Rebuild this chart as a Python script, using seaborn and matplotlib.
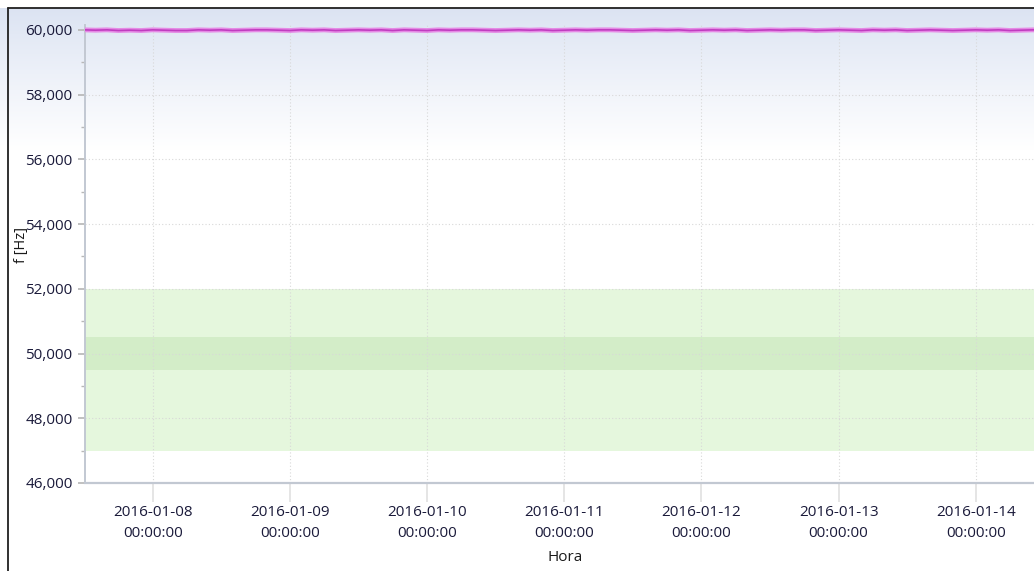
import numpy as np
import pandas as pd
import matplotlib
matplotlib.use("Agg")
import matplotlib.pyplot as plt
import matplotlib.dates as mdates
from matplotlib.ticker import FuncFormatter, MultipleLocator
import seaborn as sns

# Frequency readings, one every 2 hours from 2016-01-07 12:00
freq_hz = [
    60.00, 59.99, 60.00, 59.98, 59.99, 59.98, 60.00, 59.99, 59.98, 59.98,
    60.00, 59.99, 60.00, 59.98, 59.99, 60.00, 60.00, 59.99, 59.98, 60.00,
    59.99, 60.00, 59.98, 59.99, 60.00, 59.99, 60.00, 59.98, 60.00, 59.99,
    59.98, 60.00, 59.99, 60.00, 60.00, 59.99, 59.98, 59.99, 60.00, 59.99,
    60.00, 59.98, 59.99, 60.00, 59.99, 60.00, 60.00, 59.99, 59.98, 59.99,
    60.00, 59.99, 60.00, 59.98, 59.99, 60.00, 59.99, 60.00, 59.98, 59.99,
    60.00, 59.99, 60.00, 60.00, 59.98, 59.99, 60.00, 59.99, 59.98, 60.00,
    59.99, 60.00, 59.98, 59.99, 60.00, 59.99, 59.98, 59.99, 60.00, 59.99,
    60.00, 59.98, 59.99, 60.00, 59.99,
]
times = pd.date_range("2016-01-07 12:00", periods=len(freq_hz), freq="2h")

# Tolerance bands around the nominal 50 Hz
outer_band = (47.0, 52.0)
inner_band = (49.5, 50.5)

y_ticks = [46, 48, 50, 52, 54, 56, 58, 60]
x_ticks = pd.date_range("2016-01-08", "2016-01-14", freq="D")

df = pd.DataFrame({"Hora": times, "f": freq_hz})

sns.set_theme(style="white")
plt.rcParams["font.family"] = ["Open Sans", "DejaVu Sans"]

W, H = 1034, 571
fig = plt.figure(figsize=(W / 100, H / 100), dpi=100)
fig.patch.set_facecolor("white")

# Soft blue wash fading into white at the top of the frame
bg = fig.add_axes([0, 0, 1, 1], zorder=-5)
bg.set_axis_off()
fade_top, fade_bot = 8, 150
col = np.ones((H, 1, 3))
top = np.array([0.86, 0.89, 0.95])
for r in range(fade_top, fade_bot + 1):
    t = ((r - fade_top) / (fade_bot - fade_top)) ** 0.9
    col[r, 0] = top * (1 - t) + np.ones(3) * t
bg.imshow(col, aspect="auto", extent=[0, 1, 0, 1], origin="upper")
bg.set_xlim(0, 1)
bg.set_ylim(0, 1)

# Outer frame edges
fig.add_artist(plt.Line2D([7.5 / W, 7.5 / W], [0, 1 - 8 / H], color="#202020", lw=1.3))
fig.add_artist(plt.Line2D([7.5 / W, 1], [1 - 8 / H, 1 - 8 / H], color="#202020", lw=1.3))

ax = fig.add_axes([85 / W, 1 - 483 / H, 1 - 85 / W + 0.01, (483 - 25) / H])
ax.patch.set_alpha(0)

ax.axhspan(*outer_band, color="#e5f7dd", lw=0, zorder=0)
ax.axhspan(*inner_band, color="#d3edc8", lw=0, zorder=0.5)

sns.lineplot(data=df, x="Hora", y="f", ax=ax, color="#e58ae5", lw=3.5, zorder=3)
sns.lineplot(data=df, x="Hora", y="f", ax=ax, color="#c03cc0", lw=1.2, zorder=4)

ax.set_ylim(46, 60.15)
ax.set_xlim(pd.Timestamp("2016-01-07 12:10"), pd.Timestamp("2016-01-14 12:00"))

ax.set_yticks(y_ticks)
ax.yaxis.set_minor_locator(MultipleLocator(1))
ax.yaxis.set_major_formatter(FuncFormatter(lambda v, p: f"{v:.3f}".replace(".", ",")))
ax.set_xticks(x_ticks)
ax.xaxis.set_major_formatter(mdates.DateFormatter("%Y-%m-%d\n%H:%M:%S"))

ax.grid(True, which="major", color="#d8d8d8", lw=0.8, ls=(0, (1, 2)))
ax.tick_params(axis="y", which="major", length=5, color="#b8b8b8", labelsize=11,
               labelcolor="#1a1a3a", pad=4, left=True, direction="out")
ax.tick_params(axis="y", which="minor", length=3, color="#b8b8b8", left=True)
ax.tick_params(axis="x", which="major", length=14, color="#e2e2e2", labelsize=11,
               labelcolor="#1a1a3a", pad=2, bottom=True)
for t in ax.xaxis.get_ticklines():
    t.set_linestyle((0, (1, 1.5)))
for lbl in ax.get_xticklabels():
    lbl.set_linespacing(1.55)

for s in ["top", "right"]:
    ax.spines[s].set_visible(False)
ax.spines["left"].set_color("#c2c8d2")
ax.spines["bottom"].set_color("#c2c8d2")
ax.spines["left"].set_linewidth(1.4)
ax.spines["bottom"].set_linewidth(1.6)

ax.set_ylabel("f [Hz]", fontsize=10.5, color="#1a1a1a")
ax.set_xlabel("Hora", fontsize=11, color="#1a1a1a", labelpad=6)
ax.yaxis.set_label_coords(-0.058, 0.52)

fig.savefig("out.png", dpi=100)
